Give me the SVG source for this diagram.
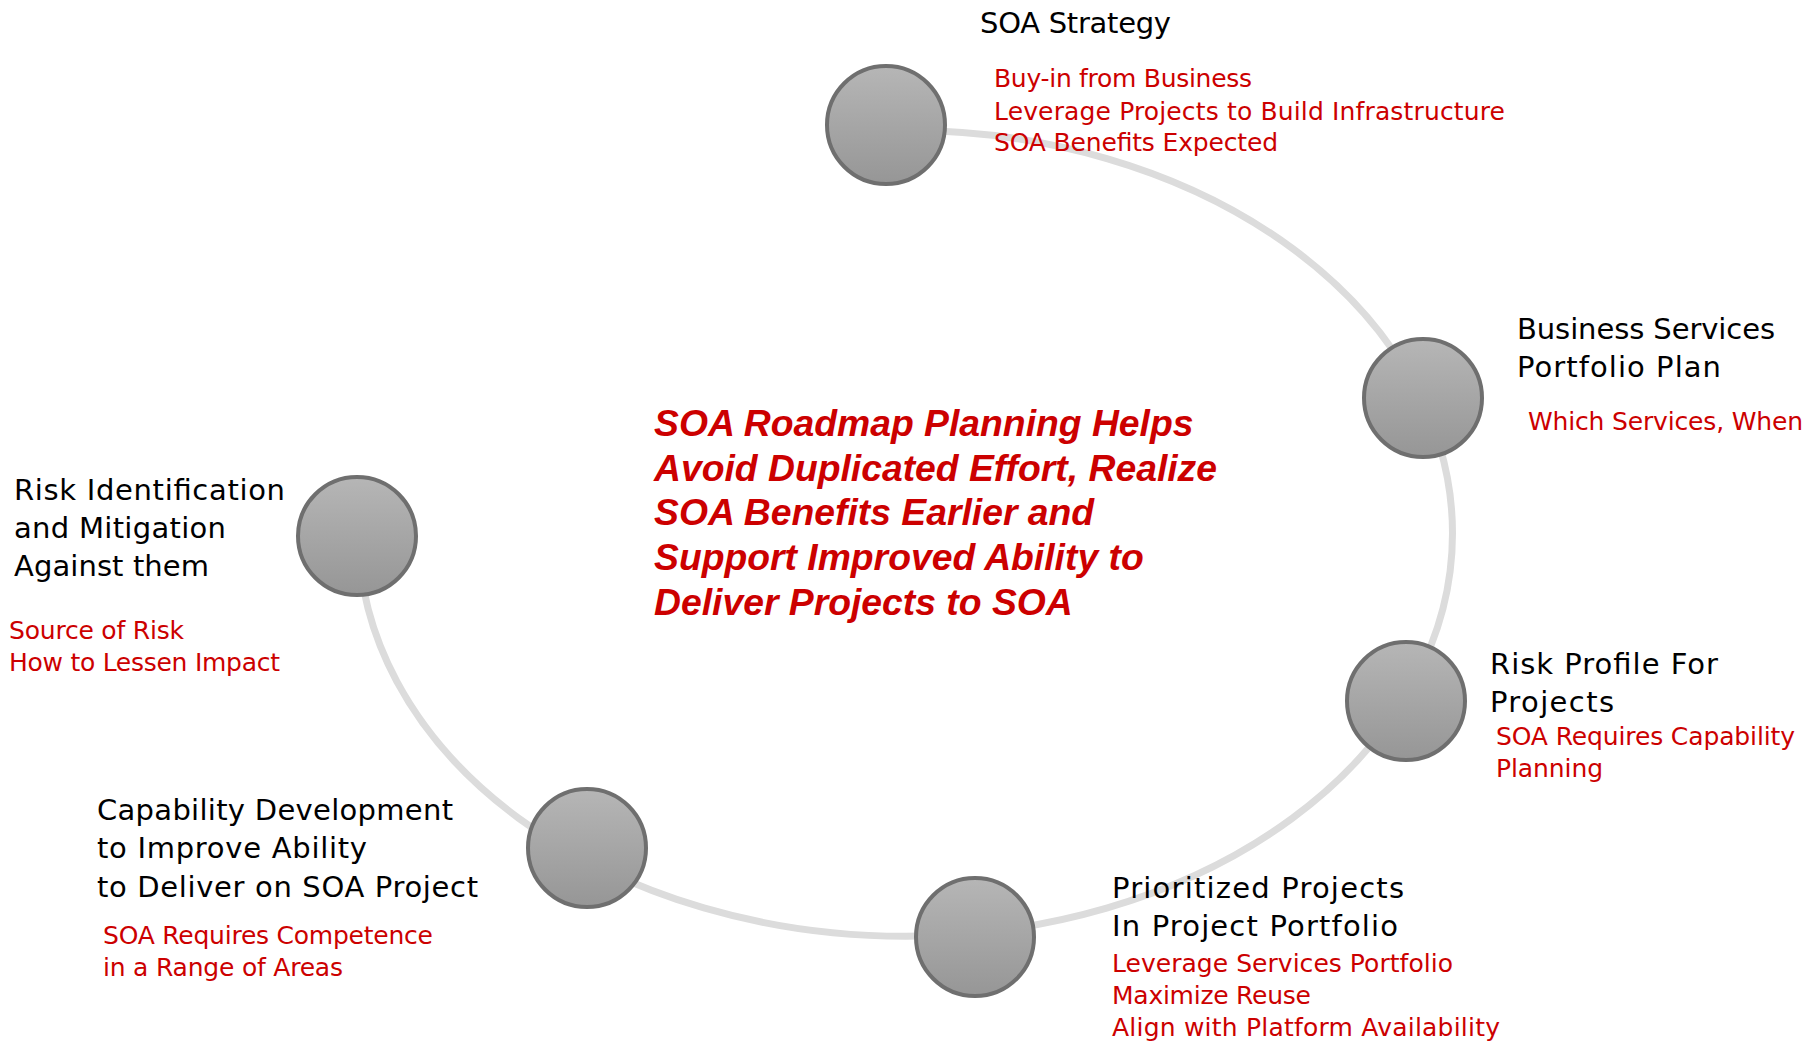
<svg xmlns="http://www.w3.org/2000/svg" width="1818" height="1042" viewBox="0 0 1818 1042">
<defs>
<linearGradient id="ball" x1="0" y1="0" x2="0" y2="1">
<stop offset="0" stop-color="#b6b6b6"/>
<stop offset="1" stop-color="#969696"/>
</linearGradient>
</defs>
<style>
.node circle{fill:url(#ball);stroke:#6f6f6f;stroke-width:4}
.t{font-family:"DejaVu Sans",sans-serif;font-size:29px;fill:#000}
.r{font-family:"DejaVu Sans",sans-serif;font-size:25px;fill:#cc0000}
.c{font-family:"Liberation Sans",Arial,sans-serif;font-weight:bold;font-style:italic;font-size:37.3px;fill:#cc0000}
</style>
<rect width="1818" height="1042" fill="#fff"/>
<g id="connectors">
<path d="M 358.5 533 A 547 403 0 1 0 905.5 130.3" fill="none" stroke="#dcdcdc" stroke-width="7"/>
</g>
<g id="node-strategy" class="node">
<circle cx="886" cy="125" r="59"/>
<text class="t" x="980" y="33" textLength="191" lengthAdjust="spacing">SOA Strategy</text>
<text class="r" x="994" y="87" textLength="258" lengthAdjust="spacing">Buy-in from Business</text>
<text class="r" x="994" y="119.5" textLength="511" lengthAdjust="spacing">Leverage Projects to Build Infrastructure</text>
<text class="r" x="994" y="151" textLength="284" lengthAdjust="spacing">SOA Benefits Expected</text>
</g>
<g id="node-portfolio" class="node">
<circle cx="1423" cy="398" r="59"/>
<text class="t" x="1517" y="339" textLength="258" lengthAdjust="spacing">Business Services</text>
<text class="t" x="1517" y="377" textLength="204" lengthAdjust="spacing">Portfolio Plan</text>
<text class="r" x="1528" y="430" textLength="275" lengthAdjust="spacing">Which Services, When</text>
</g>
<g id="node-riskprofile" class="node">
<circle cx="1406" cy="701" r="59"/>
<text class="t" x="1490" y="674" textLength="228" lengthAdjust="spacing">Risk Profile For</text>
<text class="t" x="1490" y="712" textLength="124" lengthAdjust="spacing">Projects</text>
<text class="r" x="1496" y="745" textLength="299" lengthAdjust="spacing">SOA Requires Capability</text>
<text class="r" x="1496" y="777" textLength="107" lengthAdjust="spacing">Planning</text>
</g>
<g id="node-prioritized" class="node">
<circle cx="975" cy="937" r="59"/>
<text class="t" x="1112" y="898" textLength="292" lengthAdjust="spacing">Prioritized Projects</text>
<text class="t" x="1112" y="936" textLength="286" lengthAdjust="spacing">In Project Portfolio</text>
<text class="r" x="1112" y="972" textLength="341" lengthAdjust="spacing">Leverage Services Portfolio</text>
<text class="r" x="1112" y="1004" textLength="199" lengthAdjust="spacing">Maximize Reuse</text>
<text class="r" x="1112" y="1036" textLength="388" lengthAdjust="spacing">Align with Platform Availability</text>
</g>
<g id="node-capability" class="node">
<circle cx="587" cy="848" r="59"/>
<text class="t" x="97" y="820" textLength="356" lengthAdjust="spacing">Capability Development</text>
<text class="t" x="97" y="858" textLength="270" lengthAdjust="spacing">to Improve Ability</text>
<text class="t" x="97" y="897" textLength="381" lengthAdjust="spacing">to Deliver on SOA Project</text>
<text class="r" x="103" y="944" textLength="330" lengthAdjust="spacing">SOA Requires Competence</text>
<text class="r" x="103" y="976" textLength="240" lengthAdjust="spacing">in a Range of Areas</text>
</g>
<g id="node-riskid" class="node">
<circle cx="357" cy="536" r="59"/>
<text class="t" x="14" y="500" textLength="271" lengthAdjust="spacing">Risk Identification</text>
<text class="t" x="14" y="538" textLength="212" lengthAdjust="spacing">and Mitigation</text>
<text class="t" x="14" y="576" textLength="195" lengthAdjust="spacing">Against them</text>
<text class="r" x="9" y="639" textLength="175" lengthAdjust="spacing">Source of Risk</text>
<text class="r" x="9" y="671" textLength="271" lengthAdjust="spacing">How to Lessen Impact</text>
</g>
<g id="center-text">
<text class="c" x="654" y="436">SOA Roadmap Planning Helps</text>
<text class="c" x="654" y="481">Avoid Duplicated Effort, Realize</text>
<text class="c" x="654" y="525">SOA Benefits Earlier and</text>
<text class="c" x="654" y="570">Support Improved Ability to</text>
<text class="c" x="654" y="615">Deliver Projects to SOA</text>
</g>
</svg>
